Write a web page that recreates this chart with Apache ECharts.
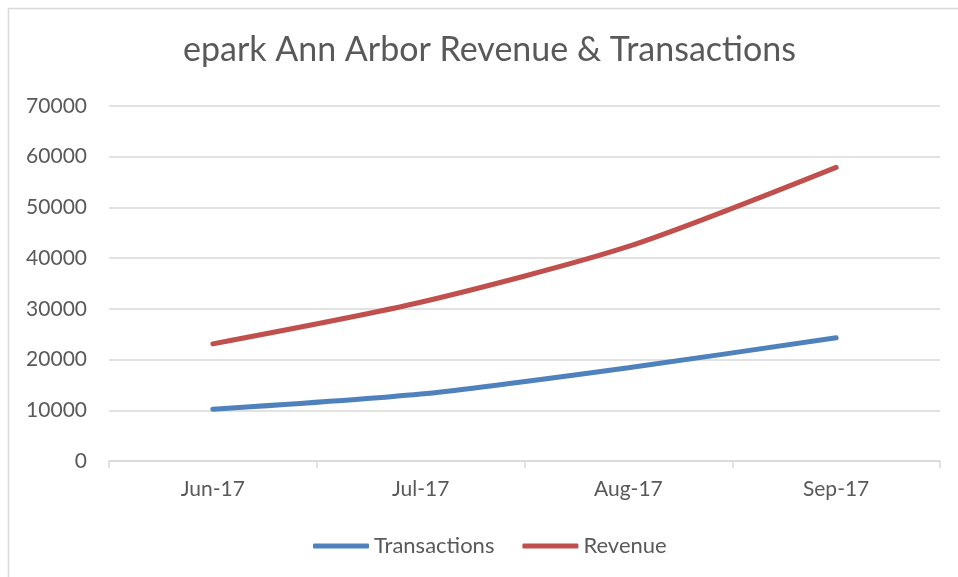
<!DOCTYPE html>
<html>
<head>
<meta charset="utf-8">
<script src="https://cdn.jsdelivr.net/npm/echarts@6/dist/echarts.min.js"></script>
<style>
  html, body { margin: 0; padding: 0; background: #fff; }
  #chart { width: 958px; height: 577px; }
</style>
</head>
<body>
<div id="chart"></div>
<script>
const categories = ['Jun-17', 'Jul-17', 'Aug-17', 'Sep-17']
const transactions = [10200, 13200, 18400, 24300]
const revenue = [23100, 31300, 42300, 57900]

const textColor = '#595959'
const gridColor = '#d9d9d9'
const fontFamily = 'Lato, "Open Sans", sans-serif'

const chart = echarts.init(document.getElementById('chart'), null, { renderer: 'canvas' })

const lineDefault = {
  type: 'line',
  smooth: 0.25,
  symbol: 'none',
  animation: false,
  lineStyle: { width: 5, cap: 'round' }
}

chart.setOption({
  textStyle: { fontFamily },
  color: ['#4F81BD', '#C0504D'],
  graphic: [
    {
      // chart frame
      type: 'rect',
      shape: { x: 8.5, y: 8.5, width: 1000, height: 700 },
      style: { fill: 'none', stroke: '#d9d9d9', lineWidth: 1.5 },
      silent: true
    }
  ],
  title: {
    text: 'epark Ann Arbor Revenue & Transactions',
    left: 178,
    top: 28,
    textStyle: { fontSize: 34, fontWeight: 'normal', color: textColor, fontFamily }
  },
  legend: {
    top: 530,
    left: 308,
    icon: 'roundRect',
    itemWidth: 56,
    itemHeight: 5,
    itemGap: 28,
    textStyle: { fontSize: 22, color: textColor, fontFamily },
    data: ['Transactions', 'Revenue']
  },
  grid: {
    left: 109,
    right: 18,
    top: 106,
    bottom: 116,
    containLabel: false
  },
  xAxis: {
    type: 'category',
    data: categories,
    boundaryGap: true,
    axisLine: { lineStyle: { color: gridColor, width: 1.5 } },
    axisTick: { show: true, length: 7, lineStyle: { color: gridColor, width: 1.5 } },
    axisLabel: { fontSize: 21, color: textColor, margin: 18 }
  },
  yAxis: {
    type: 'value',
    min: 0,
    max: 70000,
    interval: 10000,
    axisLine: { show: false },
    axisTick: { show: false },
    splitLine: { lineStyle: { color: gridColor, width: 1.5 } },
    axisLabel: { fontSize: 21, color: textColor, margin: 22, formatter: v => String(v) }
  },
  series: [
    Object.assign({}, lineDefault, { name: 'Transactions', data: transactions }),
    Object.assign({}, lineDefault, { name: 'Revenue', data: revenue })
  ]
})
</script>
</body>
</html>
